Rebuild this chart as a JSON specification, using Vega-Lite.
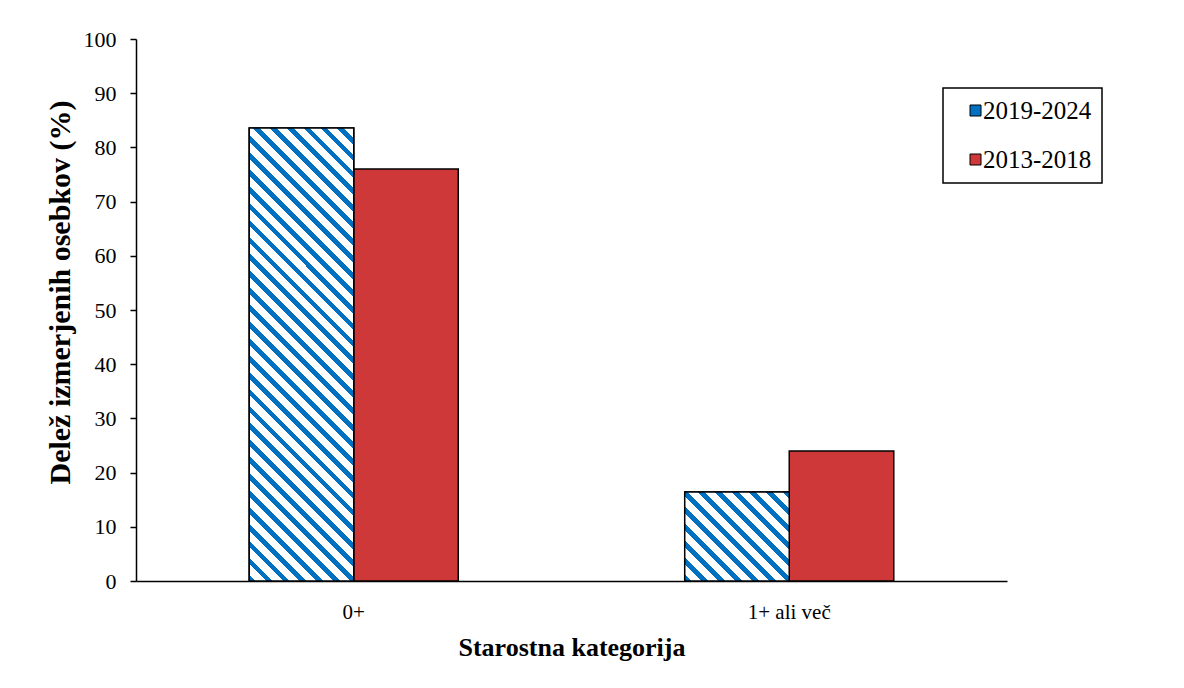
{
  "$schema": "https://vega.github.io/schema/vega-lite/v6.json",
  "autosize": {"type": "none"},
  "width": 871,
  "height": 542,
  "padding": {"left": 136, "top": 39, "right": 177, "bottom": 107},
  "background": "white",
  "config": {
    "view": {"stroke": null},
    "font": "Liberation Serif",
    "legend": {"strokeColor": "black", "strokeWidth": 1.5}
  },
  "data": {
    "values": [
      {"kat": "0+", "obdobje": "2019-2024", "delez": 83.6},
      {"kat": "0+", "obdobje": "2013-2018", "delez": 76.0},
      {"kat": "1+ ali več", "obdobje": "2019-2024", "delez": 16.4},
      {"kat": "1+ ali več", "obdobje": "2013-2018", "delez": 24.0}
    ]
  },
  "encoding": {
    "x": {
      "field": "kat", "type": "nominal", "sort": ["0+", "1+ ali več"],
      "scale": {"paddingInner": 0.52, "paddingOuter": 0.26},
      "axis": {
        "title": "Starostna kategorija", "labelAngle": 0, "ticks": false, "tickSize": 0,
        "domainColor": "black", "domainWidth": 1.5,
        "labelFont": "Liberation Serif", "labelFontSize": 21, "labelColor": "black", "labelPadding": 20,
        "titleFont": "Liberation Serif", "titleFontSize": 26, "titleFontWeight": "bold", "titleColor": "black", "titlePadding": 12
      }
    },
    "xOffset": {"field": "obdobje", "type": "nominal", "sort": ["2019-2024", "2013-2018"], "scale": {"paddingInner": 0, "paddingOuter": 0}},
    "y": {
      "field": "delez", "type": "quantitative",
      "scale": {"domain": [0, 100]},
      "axis": {
        "title": "Delež izmerjenih osebkov (%)", "grid": false, "values": [0, 10, 20, 30, 40, 50, 60, 70, 80, 90, 100],
        "domainColor": "black", "domainWidth": 1.5, "tickColor": "black", "tickWidth": 1.5, "tickSize": 6,
        "labelFont": "Liberation Serif", "labelFontSize": 22, "labelColor": "black", "labelPadding": 14,
        "titleFont": "Liberation Serif", "titleFontSize": 30, "titleFontWeight": "bold", "titleColor": "black",
        "titleX": -76, "titleY": 253, "titleBaseline": "middle", "titleAlign": "center", "titleAngle": 270
      }
    }
  },
  "layer": [
    {
      "mark": {"type": "bar", "stroke": "black", "strokeWidth": 1.5},
      "encoding": {
        "color": {
          "field": "obdobje", "type": "nominal",
          "scale": {"domain": ["2019-2024", "2013-2018"], "range": ["#0070c0", "#ce3838"]},
          "legend": {
            "title": null, "orient": "none", "legendX": 807, "legendY": 49,
            "padding": 10, "fillColor": "white",
            "symbolType": "square", "symbolSize": 121, "symbolStrokeColor": "black", "symbolStrokeWidth": 1, "symbolOffset": 10,
            "labelFont": "Liberation Serif", "labelFontSize": 25, "labelColor": "black", "labelOffset": -5,
            "rowPadding": 23
          }
        }
      }
    },
    {
      "transform": [{"filter": "datum.obdobje === '2019-2024'"}],
      "mark": {"type": "bar", "stroke": "black", "strokeWidth": 1.5},
      "encoding": {
        "fill": {
          "condition": {
            "test": "datum.kat === '0+'",
            "value": {"gradient": "linear", "x1": 0, "y1": 1, "x2": 0.2696, "y2": -0.1685, "stops": [
              {"offset": 0, "color": "#0070c0"}, {"offset": 0.0121, "color": "#0070c0"}, {"offset": 0.0121, "color": "#fff"}, {"offset": 0.0303, "color": "#fff"},
              {"offset": 0.0303, "color": "#0070c0"}, {"offset": 0.0424, "color": "#0070c0"}, {"offset": 0.0424, "color": "#fff"}, {"offset": 0.0606, "color": "#fff"},
              {"offset": 0.0606, "color": "#0070c0"}, {"offset": 0.0727, "color": "#0070c0"}, {"offset": 0.0727, "color": "#fff"}, {"offset": 0.0909, "color": "#fff"},
              {"offset": 0.0909, "color": "#0070c0"}, {"offset": 0.1030, "color": "#0070c0"}, {"offset": 0.1030, "color": "#fff"}, {"offset": 0.1212, "color": "#fff"},
              {"offset": 0.1212, "color": "#0070c0"}, {"offset": 0.1333, "color": "#0070c0"}, {"offset": 0.1333, "color": "#fff"}, {"offset": 0.1515, "color": "#fff"},
              {"offset": 0.1515, "color": "#0070c0"}, {"offset": 0.1636, "color": "#0070c0"}, {"offset": 0.1636, "color": "#fff"}, {"offset": 0.1818, "color": "#fff"},
              {"offset": 0.1818, "color": "#0070c0"}, {"offset": 0.1939, "color": "#0070c0"}, {"offset": 0.1939, "color": "#fff"}, {"offset": 0.2121, "color": "#fff"},
              {"offset": 0.2121, "color": "#0070c0"}, {"offset": 0.2242, "color": "#0070c0"}, {"offset": 0.2242, "color": "#fff"}, {"offset": 0.2424, "color": "#fff"},
              {"offset": 0.2424, "color": "#0070c0"}, {"offset": 0.2545, "color": "#0070c0"}, {"offset": 0.2545, "color": "#fff"}, {"offset": 0.2727, "color": "#fff"},
              {"offset": 0.2727, "color": "#0070c0"}, {"offset": 0.2848, "color": "#0070c0"}, {"offset": 0.2848, "color": "#fff"}, {"offset": 0.3030, "color": "#fff"},
              {"offset": 0.3030, "color": "#0070c0"}, {"offset": 0.3152, "color": "#0070c0"}, {"offset": 0.3152, "color": "#fff"}, {"offset": 0.3333, "color": "#fff"},
              {"offset": 0.3333, "color": "#0070c0"}, {"offset": 0.3455, "color": "#0070c0"}, {"offset": 0.3455, "color": "#fff"}, {"offset": 0.3636, "color": "#fff"},
              {"offset": 0.3636, "color": "#0070c0"}, {"offset": 0.3758, "color": "#0070c0"}, {"offset": 0.3758, "color": "#fff"}, {"offset": 0.3939, "color": "#fff"},
              {"offset": 0.3939, "color": "#0070c0"}, {"offset": 0.4061, "color": "#0070c0"}, {"offset": 0.4061, "color": "#fff"}, {"offset": 0.4242, "color": "#fff"},
              {"offset": 0.4242, "color": "#0070c0"}, {"offset": 0.4364, "color": "#0070c0"}, {"offset": 0.4364, "color": "#fff"}, {"offset": 0.4545, "color": "#fff"},
              {"offset": 0.4545, "color": "#0070c0"}, {"offset": 0.4667, "color": "#0070c0"}, {"offset": 0.4667, "color": "#fff"}, {"offset": 0.4848, "color": "#fff"},
              {"offset": 0.4848, "color": "#0070c0"}, {"offset": 0.4970, "color": "#0070c0"}, {"offset": 0.4970, "color": "#fff"}, {"offset": 0.5152, "color": "#fff"},
              {"offset": 0.5152, "color": "#0070c0"}, {"offset": 0.5273, "color": "#0070c0"}, {"offset": 0.5273, "color": "#fff"}, {"offset": 0.5455, "color": "#fff"},
              {"offset": 0.5455, "color": "#0070c0"}, {"offset": 0.5576, "color": "#0070c0"}, {"offset": 0.5576, "color": "#fff"}, {"offset": 0.5758, "color": "#fff"},
              {"offset": 0.5758, "color": "#0070c0"}, {"offset": 0.5879, "color": "#0070c0"}, {"offset": 0.5879, "color": "#fff"}, {"offset": 0.6061, "color": "#fff"},
              {"offset": 0.6061, "color": "#0070c0"}, {"offset": 0.6182, "color": "#0070c0"}, {"offset": 0.6182, "color": "#fff"}, {"offset": 0.6364, "color": "#fff"},
              {"offset": 0.6364, "color": "#0070c0"}, {"offset": 0.6485, "color": "#0070c0"}, {"offset": 0.6485, "color": "#fff"}, {"offset": 0.6667, "color": "#fff"},
              {"offset": 0.6667, "color": "#0070c0"}, {"offset": 0.6788, "color": "#0070c0"}, {"offset": 0.6788, "color": "#fff"}, {"offset": 0.6970, "color": "#fff"},
              {"offset": 0.6970, "color": "#0070c0"}, {"offset": 0.7091, "color": "#0070c0"}, {"offset": 0.7091, "color": "#fff"}, {"offset": 0.7273, "color": "#fff"},
              {"offset": 0.7273, "color": "#0070c0"}, {"offset": 0.7394, "color": "#0070c0"}, {"offset": 0.7394, "color": "#fff"}, {"offset": 0.7576, "color": "#fff"},
              {"offset": 0.7576, "color": "#0070c0"}, {"offset": 0.7697, "color": "#0070c0"}, {"offset": 0.7697, "color": "#fff"}, {"offset": 0.7879, "color": "#fff"},
              {"offset": 0.7879, "color": "#0070c0"}, {"offset": 0.8000, "color": "#0070c0"}, {"offset": 0.8000, "color": "#fff"}, {"offset": 0.8182, "color": "#fff"},
              {"offset": 0.8182, "color": "#0070c0"}, {"offset": 0.8303, "color": "#0070c0"}, {"offset": 0.8303, "color": "#fff"}, {"offset": 0.8485, "color": "#fff"},
              {"offset": 0.8485, "color": "#0070c0"}, {"offset": 0.8606, "color": "#0070c0"}, {"offset": 0.8606, "color": "#fff"}, {"offset": 0.8788, "color": "#fff"},
              {"offset": 0.8788, "color": "#0070c0"}, {"offset": 0.8909, "color": "#0070c0"}, {"offset": 0.8909, "color": "#fff"}, {"offset": 0.9091, "color": "#fff"},
              {"offset": 0.9091, "color": "#0070c0"}, {"offset": 0.9212, "color": "#0070c0"}, {"offset": 0.9212, "color": "#fff"}, {"offset": 0.9394, "color": "#fff"},
              {"offset": 0.9394, "color": "#0070c0"}, {"offset": 0.9515, "color": "#0070c0"}, {"offset": 0.9515, "color": "#fff"}, {"offset": 0.9697, "color": "#fff"},
              {"offset": 0.9697, "color": "#0070c0"}, {"offset": 0.9818, "color": "#0070c0"}, {"offset": 0.9818, "color": "#fff"}, {"offset": 1, "color": "#fff"}
            ]}
          },
          "value": {"gradient": "linear", "x1": 0, "y1": 1, "x2": 1.0733, "y2": 0.0860, "stops": [
            {"offset": 0, "color": "#0070c0"}, {"offset": 0.0351, "color": "#0070c0"}, {"offset": 0.0351, "color": "#fff"}, {"offset": 0.0877, "color": "#fff"},
            {"offset": 0.0877, "color": "#0070c0"}, {"offset": 0.1228, "color": "#0070c0"}, {"offset": 0.1228, "color": "#fff"}, {"offset": 0.1754, "color": "#fff"},
            {"offset": 0.1754, "color": "#0070c0"}, {"offset": 0.2105, "color": "#0070c0"}, {"offset": 0.2105, "color": "#fff"}, {"offset": 0.2632, "color": "#fff"},
            {"offset": 0.2632, "color": "#0070c0"}, {"offset": 0.2982, "color": "#0070c0"}, {"offset": 0.2982, "color": "#fff"}, {"offset": 0.3509, "color": "#fff"},
            {"offset": 0.3509, "color": "#0070c0"}, {"offset": 0.3860, "color": "#0070c0"}, {"offset": 0.3860, "color": "#fff"}, {"offset": 0.4386, "color": "#fff"},
            {"offset": 0.4386, "color": "#0070c0"}, {"offset": 0.4737, "color": "#0070c0"}, {"offset": 0.4737, "color": "#fff"}, {"offset": 0.5263, "color": "#fff"},
            {"offset": 0.5263, "color": "#0070c0"}, {"offset": 0.5614, "color": "#0070c0"}, {"offset": 0.5614, "color": "#fff"}, {"offset": 0.6140, "color": "#fff"},
            {"offset": 0.6140, "color": "#0070c0"}, {"offset": 0.6491, "color": "#0070c0"}, {"offset": 0.6491, "color": "#fff"}, {"offset": 0.7018, "color": "#fff"},
            {"offset": 0.7018, "color": "#0070c0"}, {"offset": 0.7368, "color": "#0070c0"}, {"offset": 0.7368, "color": "#fff"}, {"offset": 0.7895, "color": "#fff"},
            {"offset": 0.7895, "color": "#0070c0"}, {"offset": 0.8246, "color": "#0070c0"}, {"offset": 0.8246, "color": "#fff"}, {"offset": 0.8772, "color": "#fff"},
            {"offset": 0.8772, "color": "#0070c0"}, {"offset": 0.9123, "color": "#0070c0"}, {"offset": 0.9123, "color": "#fff"}, {"offset": 0.9649, "color": "#fff"},
            {"offset": 0.9649, "color": "#0070c0"}, {"offset": 1, "color": "#0070c0"}
          ]}
        }
      }
    }
  ]
}
